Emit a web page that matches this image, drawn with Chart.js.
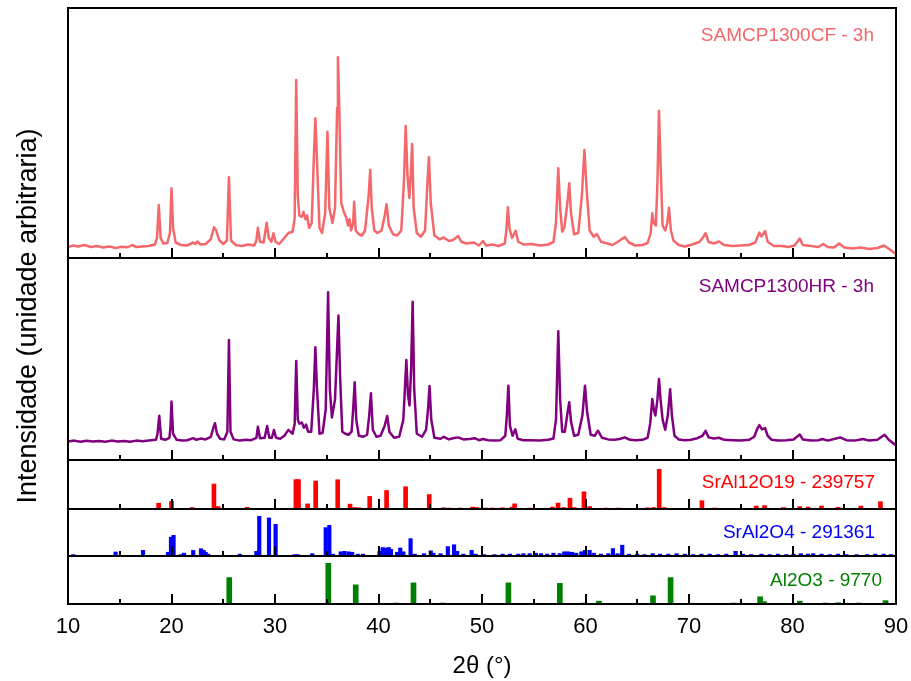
<!DOCTYPE html>
<html>
<head>
<meta charset="utf-8">
<script src="https://cdn.jsdelivr.net/npm/chart.js@4.4.1/dist/chart.umd.min.js"></script>
<style>
  html, body { margin: 0; padding: 0; background: #ffffff; }
  #wrap { width: 911px; height: 681px; }
</style>
</head>
<body>
<div id="wrap"><canvas id="xrd" width="911" height="681"></canvas></div>
<script>
// ---- Data: 2θ (degrees) and relative intensity (arbitrary units, 0-100 per panel) ----

// Measured pattern, sample SAMCP1300CF - 3h
const cfPattern = [
  [10.0,4.4],[10.5,5.0],[11.0,4.6],[11.6,5.2],[12.2,4.4],[12.8,4.8],[13.4,4.2],[14.0,4.6],[14.6,4.0],
  [15.2,4.5],[15.8,4.3],[16.2,5.2],[16.6,4.4],[17.2,4.6],[17.8,4.8],[18.4,5.4],[18.6,8],[18.77,21.2],
  [18.95,8],[19.2,5.8],[19.6,6.0],[19.85,10],[20.0,27.9],[20.15,12],[20.4,6.2],[20.9,5.2],[21.5,5.0],
  [22.1,6.2],[22.3,5.6],[22.5,6.6],[22.8,5.4],[23.3,5.6],[23.8,7.5],[24.1,12.3],[24.3,11.2],[24.6,7.2],
  [25.0,5.6],[25.35,7],[25.55,32.3],[25.75,7],[26.2,5.2],[26.8,4.8],[27.4,5.4],[28.0,5.0],[28.2,7],
  [28.35,12.1],[28.55,6.5],[28.9,6.2],[29.2,14.1],[29.4,8.0],[29.65,6.5],[29.85,9.9],[30.05,6.5],
  [30.4,5.6],[30.9,8.0],[31.3,10.0],[31.7,10.5],[31.9,16],[32.05,71.2],[32.2,25],[32.35,17],[32.6,16.5],
  [32.75,18.5],[32.95,15.5],[33.1,17],[33.3,12],[33.55,14],[33.75,40],[33.9,55.9],[34.05,40],[34.3,12],
  [34.55,10],[34.85,18],[35.07,50.5],[35.25,20],[35.55,14],[35.8,20],[36.0,60],[36.08,80.3],[36.2,62],
  [36.4,22],[36.65,18.5],[36.9,16],[37.05,13],[37.2,15.5],[37.35,11],[37.55,14],[37.65,22.5],[37.8,11],
  [38.1,9.5],[38.4,9.0],[38.7,11],[39.05,25],[39.2,35.2],[39.35,20],[39.6,11],[39.9,10],[40.3,11],
  [40.6,17],[40.78,21.5],[41.0,13],[41.4,9.5],[41.8,9.0],[42.2,11],[42.45,30],[42.63,52.8],[42.8,33],
  [42.98,24],[43.1,32],[43.25,45.6],[43.4,20],[43.7,10],[44.1,8.5],[44.5,11],[44.7,28],[44.87,40.3],
  [45.05,22],[45.4,9],[45.9,7.5],[46.3,8.2],[46.8,6.8],[47.2,7.2],[47.7,8.8],[48.0,6.5],[48.5,5.8],
  [49.2,6.2],[49.7,5.0],[50.1,6.8],[50.4,5.0],[51.0,5.4],[51.6,4.8],[52.2,5.8],[52.35,11],[52.5,20.3],
  [52.65,12],[52.9,8.0],[53.25,10.9],[53.5,6.5],[54.0,5.4],[54.8,5.6],[55.6,5.0],[56.4,5.4],[56.9,6.4],
  [57.15,14],[57.37,35.9],[57.55,20],[57.75,10.5],[57.95,12],[58.25,22],[58.43,29.9],[58.6,18],[58.9,9.5],
  [59.3,10],[59.65,25],[59.9,43.2],[60.1,28],[60.4,11],[60.8,8.5],[61.1,9.6],[61.5,6.5],[62.1,5.8],
  [62.6,5.2],[63.1,6.4],[63.8,8.4],[64.2,6.2],[64.8,5.0],[65.5,5.2],[66.0,6.0],[66.3,10],[66.45,17.9],
  [66.6,14],[66.8,13],[66.95,30],[67.1,58.9],[67.25,38],[67.45,13],[67.7,11],[67.9,14],[68.07,20.1],
  [68.25,11],[68.5,7],[69.0,5.2],[69.6,4.6],[70.3,5.4],[71.0,6.4],[71.4,8.5],[71.6,9.9],[71.9,6.4],
  [72.4,5.8],[72.9,6.6],[73.4,5.2],[74.2,4.8],[75.0,5.0],[75.8,5.2],[76.4,6.2],[76.8,10.2],[77.0,8.6],
  [77.35,10.8],[77.6,6.5],[78.2,4.8],[79.0,4.8],[79.6,4.4],[80.2,5.0],[80.7,7.8],[81.0,5.2],[81.8,4.8],
  [82.5,4.4],[82.97,5.6],[83.4,4.4],[84.0,4.2],[84.5,5.8],[85.0,4.2],[85.8,3.8],[86.6,4.2],[87.4,3.6],
  [88.2,4.0],[88.85,5.0],[89.4,3.4],[90.0,1.6]
];

// Measured pattern, sample SAMCP1300HR - 3h
const hrPattern = [
  [10.0,9.2],[10.6,9.6],[11.2,9.0],[11.8,9.5],[12.4,9.2],[13.0,9.4],[13.6,9.0],[14.2,9.6],[14.8,9.2],
  [15.4,9.4],[16.0,9.0],[16.6,9.6],[17.2,9.3],[17.8,9.6],[18.5,10],[18.65,13],[18.82,21.9],[19.0,10.5],
  [19.4,10],[19.8,11],[19.9,16],[20.0,28.9],[20.15,13],[20.5,10],[21.0,9.6],[21.5,9.8],[22.1,10.8],
  [22.4,10],[22.8,10.6],[23.3,10.2],[23.8,11.5],[24.05,16],[24.2,18.2],[24.4,13],[24.7,10.5],[25.1,10.2],
  [25.4,14],[25.55,59.4],[25.7,14],[26.0,10.2],[26.6,9.6],[27.2,10.0],[27.7,9.8],[28.2,11],[28.35,16.5],
  [28.55,10.8],[29.0,11],[29.24,16.8],[29.45,11],[29.7,11],[29.9,14.9],[30.1,11],[30.5,10.5],[30.9,12],
  [31.3,14.9],[31.7,13],[31.9,18],[32.05,49],[32.2,20],[32.35,18],[32.6,18.5],[32.8,16],[33.0,17.5],
  [33.2,14],[33.5,14],[33.75,35],[33.9,55.8],[34.05,36],[34.3,13],[34.6,13.5],[34.9,25],[35.13,83],
  [35.3,35],[35.5,21],[35.8,30],[36.0,55],[36.13,71.5],[36.3,40],[36.5,14],[36.8,13],[37.1,12.5],
  [37.4,14],[37.55,25],[37.7,38.5],[37.85,20],[38.1,12],[38.5,11.5],[38.9,12.5],[39.1,22],[39.27,33],
  [39.45,15],[39.8,11.5],[40.2,12],[40.6,17],[40.84,21.8],[41.05,14],[41.5,11],[42.0,11.5],[42.4,20],
  [42.69,49.5],[42.85,32],[43.0,27],[43.15,45],[43.3,78.4],[43.45,35],[43.7,13],[44.2,11.5],[44.6,15],
  [44.78,25],[44.93,36.6],[45.1,20],[45.4,11],[46.0,10.5],[46.3,11.5],[46.8,10.2],[47.2,10.8],[47.7,11.2],
  [48.2,10.2],[48.8,10.4],[49.3,10.8],[49.7,9.8],[50.1,10.4],[50.6,9.8],[51.2,9.6],[51.8,9.8],[52.25,12],
  [52.4,22],[52.55,36.8],[52.7,17],[52.95,12],[53.22,15.2],[53.45,10.5],[54.0,9.8],[54.8,9.8],[55.6,9.6],
  [56.4,10.0],[56.9,10.6],[57.15,20],[57.37,63.7],[57.55,30],[57.75,14],[58.0,14],[58.25,23],[58.43,28.6],
  [58.6,19],[58.9,12],[59.3,12.5],[59.7,22],[59.95,36.8],[60.15,24],[60.5,12.5],[60.9,12],[61.2,14.5],
  [61.6,11],[62.2,10.2],[62.8,10],[63.3,10.4],[63.8,11.2],[64.3,10],[64.9,9.8],[65.5,10],[66.0,11],
  [66.25,18],[66.45,30.2],[66.6,25],[66.75,22],[66.95,30],[67.1,40.1],[67.25,30],[67.45,20],[67.7,15],
  [67.95,22],[68.18,35],[68.35,22],[68.6,12],[69.0,10.2],[69.6,9.8],[70.2,10.0],[70.8,10.8],[71.3,12],
  [71.6,14.4],[71.9,11.2],[72.4,10.6],[72.9,11.0],[73.4,10.0],[74.2,9.8],[75.0,9.6],[75.8,10],[76.3,11.5],
  [76.6,15.5],[76.8,17.3],[77.05,15.2],[77.35,15.8],[77.6,12],[78.0,10],[78.6,9.6],[79.4,9.8],[80.1,10.2],
  [80.7,12.6],[81.0,10.2],[81.8,9.6],[82.5,9.8],[82.9,10.4],[83.4,9.6],[84.2,10.6],[84.6,11.2],[85.2,9.8],
  [86.0,9.6],[86.8,10.4],[87.4,9.6],[88.2,10],[88.9,12.5],[89.3,10],[90.0,7.2]
];

// Reference card SrAl12O19 - 239757 (stick pattern)
const srAl12O19Sticks = [
  [18.34,1.5],[18.76,11.8],[20.0,15.3],[22.0,3],[24.1,51],[24.5,5],[27.3,3.5],[32.02,60],[32.27,60],
  [33.15,10.4],[33.93,57],[36.06,59.7],[37.25,10],[37.7,3],[38.1,2.5],[39.15,25.7],[40.78,37.8],
  [42.62,45.5],[44.9,29.5],[46.3,2.5],[46.8,2],[47.9,2],[49.1,4],[49.5,3],[50.3,2],[51.0,2],[52.0,2.5],
  [52.9,4],[53.15,10.5],[54.6,2],[56.8,4],[57.35,12],[57.9,3],[58.5,22],[58.9,3],[59.85,35],[60.4,5],
  [62.0,2],[63.2,2],[66.0,2.5],[66.6,3],[67.12,81],[67.6,3],[71.25,17],[72.5,2],[76.5,6],[77.3,7],
  [79.1,3],[80.7,5],[81.5,4],[82.8,6],[84.4,3.5],[86.6,6],[88.5,15]
];

// Reference card SrAl2O4 - 291361 (stick pattern)
const srAl2O4Sticks = [
  [10.5,3],[14.6,8.5],[17.25,12],[19.66,8],[19.95,40],[20.2,44],[20.9,3],[21.2,6],[22.1,12],[22.85,15.5],
  [23.1,12],[23.3,8],[23.55,4],[26.6,4],[28.2,10],[28.48,84.5],[29.42,81],[30.06,67.4],[31.9,3],[32.2,3],
  [33.6,5],[34.9,60.4],[35.25,65.3],[35.6,4],[36.35,9],[36.7,10],[37.1,9],[37.45,8],[38.0,4],[38.5,4],
  [40.1,10],[40.4,18],[40.7,17],[41.0,18],[41.2,14],[41.8,8],[42.1,17],[42.4,9],[43.1,37],[43.5,4],
  [44.4,5],[45.05,11],[45.3,6],[46.0,5],[46.7,20],[47.3,24],[47.6,10],[48.2,4],[49.0,12],[49.4,4],
  [50.2,3],[51.2,3],[52.0,4],[52.7,4],[53.5,4],[54.0,5],[54.6,5],[55.2,6],[55.7,5],[56.3,4],[56.9,6],
  [57.5,5],[57.95,9],[58.3,9],[58.7,8],[59.1,6],[59.6,9],[59.95,12],[60.4,12],[60.8,6],[61.5,4],[62.2,5],
  [62.65,15.8],[63.1,5],[63.55,23],[64.2,4],[65.0,4],[65.7,3],[66.5,5],[67.2,4],[68.0,4],[68.8,5],
  [69.6,4],[70.4,3],[71.2,4],[72.0,4],[72.8,3],[73.6,4],[74.5,10],[75.2,4],[76.0,3],[77.0,4],[77.8,3],
  [78.6,4],[79.4,3],[80.1,4],[80.8,5],[81.5,4],[82.0,5],[82.8,4],[83.6,3],[84.4,4],[85.2,3],[86.2,3],
  [87.2,3],[88.0,4],[88.8,4],[89.5,3]
];

// Reference card Al2O3 - 9770 (stick pattern)
const al2O3Sticks = [
  [25.58,55],[35.15,84.8],[37.8,40],[41.7,2],[43.38,44],[46.2,2],[52.55,44],[57.52,43],[59.8,2],
  [61.3,6],[66.52,17],[68.22,55],[70.4,1.5],[74.3,2],[76.87,15],[77.25,5],[80.7,6],[83.2,2],
  [84.4,2.5],[86.4,2],[88.99,7]
];

const panelNames = ['SAMCP1300CF - 3h', 'SAMCP1300HR - 3h', 'SrAl12O19 - 239757', 'SrAl2O4 - 291361', 'Al2O3 - 9770'];
const xTickValues = [10, 20, 30, 40, 50, 60, 70, 80, 90];
const xMinorValues = [15, 25, 35, 45, 55, 65, 75, 85];
const xTitle = '2\u03B8 (\u00B0)';
const yTitle = 'Intensidade (unidade arbitraria)';

// ---- Drawing ----
const toXY = pts => pts.map(([x, y]) => ({ x, y }));
const LABEL_FONT = '19px "Liberation Sans", Arial, sans-serif';

// one entry per stacked panel: axis id, colour, label anchor (right x, offset from panel top)
const panels = [
  { axis: 'yCF',  color: '#f4676a', lx: 874, ly: 28 },
  { axis: 'yHR',  color: '#800080', lx: 874, ly: 29 },
  { axis: 'yA',   color: '#ff0000', lx: 875, ly: 23 },
  { axis: 'yB',   color: '#0000ff', lx: 875, ly: 24 },
  { axis: 'yC',   color: '#008000', lx: 882, ly: 25 }
];

const framePlugin = {
  id: 'panelFrames',
  afterDatasetsDraw(chart) {
    const { ctx, chartArea } = chart;
    const xs = chart.scales.x;
    ctx.save();
    panels.forEach((p, i) => {
      const s = chart.scales[p.axis];
      ctx.strokeStyle = '#000';
      ctx.lineWidth = 2;
      ctx.strokeRect(chartArea.left, s.top, chartArea.right - chartArea.left, s.bottom - s.top);
      // inward tick marks along the bottom edge of every panel
      const mark = (v, len) => {
        const px = Math.round(xs.getPixelForValue(v));
        ctx.beginPath();
        ctx.moveTo(px, s.bottom);
        ctx.lineTo(px, s.bottom - len);
        ctx.stroke();
      };
      xTickValues.forEach(v => mark(v, 10));
      xMinorValues.forEach(v => mark(v, 5));
      // panel caption
      ctx.fillStyle = p.color;
      ctx.font = LABEL_FONT;
      ctx.textAlign = 'right';
      ctx.textBaseline = 'middle';
      ctx.fillText(panelNames[i], p.lx, s.top + p.ly);
    });
    // shared vertical axis title
    ctx.translate(36, 316);
    ctx.rotate(-Math.PI / 2);
    ctx.fillStyle = '#000';
    ctx.font = '27px "Liberation Sans", Arial, sans-serif';
    ctx.textAlign = 'center';
    ctx.textBaseline = 'alphabetic';
    ctx.fillText(yTitle, 0, 0);
    ctx.restore();
  }
};

const panelAxis = (weight, stackWeight) => ({
  type: 'linear', display: false, position: 'left', stack: 'panels',
  stackWeight, weight, min: 0, max: 100
});

const lineStyle = color => ({
  type: 'line', borderColor: color, borderWidth: 2.5, pointRadius: 0,
  tension: 0, fill: false, borderJoinStyle: 'round'
});
const stickStyle = (color, width) => ({
  type: 'bar', backgroundColor: color, borderWidth: 0, barThickness: width, grouped: false
});

new Chart(document.getElementById('xrd').getContext('2d'), {
  type: 'line',
  data: {
    datasets: [
      { label: panelNames[0], data: toXY(cfPattern), yAxisID: 'yCF', ...lineStyle(panels[0].color) },
      { label: panelNames[1], data: toXY(hrPattern), yAxisID: 'yHR', ...lineStyle(panels[1].color) },
      { label: panelNames[2], data: toXY(srAl12O19Sticks), yAxisID: 'yA', ...stickStyle(panels[2].color, 4) },
      { label: panelNames[3], data: toXY(srAl2O4Sticks), yAxisID: 'yB', ...stickStyle(panels[3].color, 3.5) },
      { label: panelNames[4], data: toXY(al2O3Sticks), yAxisID: 'yC', ...stickStyle(panels[4].color, 5) }
    ]
  },
  options: {
    responsive: false,
    animation: false,
    devicePixelRatio: 1,
    layout: { padding: { left: 68, right: 15, top: 8, bottom: 0 } },
    plugins: { legend: { display: false }, tooltip: { enabled: false } },
    scales: {
      x: {
        type: 'linear', position: 'bottom', min: 10, max: 90, offset: false,
        grid: { display: false, drawTicks: false },
        border: { display: false },
        afterBuildTicks: s => { s.ticks = xTickValues.map(v => ({ value: v })); },
        ticks: {
          padding: 10, color: '#000', maxRotation: 0, autoSkip: false,
          font: { family: '"Liberation Sans Narrow", "Liberation Sans", Arial, sans-serif', size: 22 }
        },
        title: {
          display: true, text: xTitle, color: '#000', padding: { top: 0, bottom: 0 },
          font: { family: '"Liberation Sans", Arial, sans-serif', size: 24 }
        },
        afterFit: s => { s.height = 77; s.paddingLeft = 0; s.paddingRight = 0; }
      },
      yCF: panelAxis(5, 250),
      yHR: panelAxis(4, 202),
      yA:  panelAxis(3, 49),
      yB:  panelAxis(2, 47),
      yC:  panelAxis(1, 48)
    }
  },
  plugins: [framePlugin]
});
</script>
</body>
</html>
